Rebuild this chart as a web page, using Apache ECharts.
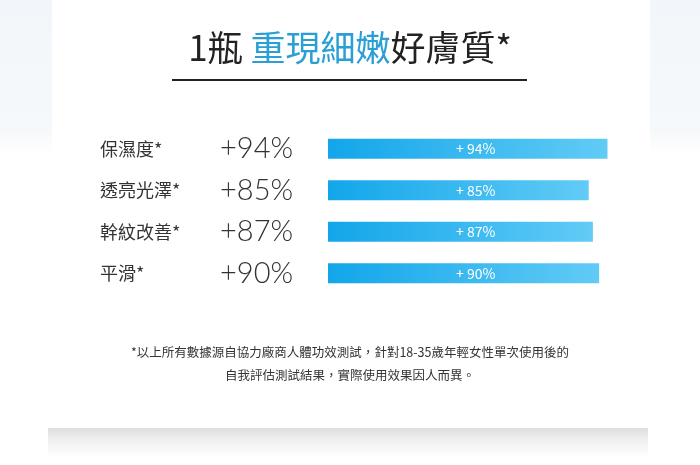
<!DOCTYPE html>
<html><head><meta charset="utf-8">
<script src="https://cdn.jsdelivr.net/npm/echarts@6/dist/echarts.min.js"></script>
<style>html,body{margin:0;padding:0;background:#fff}#c{width:700px;height:465px}</style>
</head><body><div id="c"></div>
<script>
const categories = ['保濕度*', '透亮光澤*', '幹紋改善*', '平滑*'];
const values = [94, 85, 87, 90];
const barLabels = ['+ 94%', '+ 85%', '+ 87%', '+ 90%'];
const bigLabels = ['+94%', '+85%', '+87%', '+90%'];
const footnote1 = '*以上所有數據源自協力廠商人體功效測試，針對18-35歲年輕女性單次使用後的';
const footnote2 = '自我評估測試結果，實際使用效果因人而異。';
const axisMin = -40, axisMax = 100;

const chart = echarts.init(document.getElementById('c'), null, {renderer: 'canvas'});
const font = '"Noto Sans CJK TC","Noto Sans",sans-serif';
const sideFill = () => new echarts.graphic.LinearGradient(0,0,0,1,[{offset:0,color:'#f2f6fa'},{offset:0.85,color:'#f6f9fb'},{offset:1,color:'#ffffff'}]);
chart.setOption({
  backgroundColor: '#fff',
  animation: false,
  graphic: [
    {type: 'rect', left: 0, top: 0, shape: {width: 52, height: 155}, style: {fill: sideFill()}, z: -10},
    {type: 'rect', right: 0, top: 0, shape: {width: 50, height: 155}, style: {fill: sideFill()}, z: -10},
    {type: 'rect', left: 48, top: 428, shape: {width: 600, height: 30}, style: {fill: new echarts.graphic.LinearGradient(0,0,0,1,[{offset:0,color:'#dedede'},{offset:0.35,color:'#eeeeee'},{offset:1,color:'#ffffff'}])}, z: -10},
    {type: 'text', left: 'center', top: 30, style: {
      text: '{k|1瓶 }{b|重現細嫩}{k|好膚質*}',
      rich: {
        k: {fontSize: 35, fill: '#222', fontFamily: font},
        b: {fontSize: 35, fill: '#2a9fd6', fontFamily: font}
      }
    }},
    {type: 'line', shape: {x1: 172, y1: 80, x2: 527, y2: 80}, style: {stroke: '#222', lineWidth: 2}},
    {type: 'text', left: 'center', top: 346, style: {text: footnote1, fontSize: 12.5, fill: '#333', fontFamily: font}},
    {type: 'text', left: 'center', top: 369, style: {text: footnote2, fontSize: 12.5, fill: '#333', fontFamily: font}}
  ],
  grid: {left: 328, top: 128, width: 292, height: 166, containLabel: false},
  xAxis: {type: 'value', min: axisMin, max: axisMax, show: false},
  yAxis: {
    type: 'category', data: categories, inverse: true,
    axisLine: {show: false}, axisTick: {show: false}, splitLine: {show: false},
    axisLabel: {
      margin: 228, align: 'left',
      formatter: function (v, i) { return '{a|' + v + '}{p|' + bigLabels[i] + '}'; },
      rich: {
        a: {fontSize: 18, color: '#333', width: 120, fontFamily: font},
        p: {fontSize: 29, color: '#333', fontWeight: 300, fontFamily: 'Lato, "Open Sans", sans-serif'}
      }
    }
  },
  series: [{
    type: 'custom',
    data: values.map((v, i) => [v, i]),
    encode: {x: 0, y: 1},
    renderItem: function (params, api) {
      const idx = api.value(1);
      const end = api.coord([api.value(0), idx]);
      const start = api.coord([axisMin, idx]);
      const h = 20;
      return {
        type: 'group',
        children: [{
          type: 'rect',
          shape: {x: start[0], y: end[1] - h / 2, width: end[0] - start[0], height: h},
          style: {fill: new echarts.graphic.LinearGradient(0,0,1,0,[{offset:0,color:'#12a6ea'},{offset:1,color:'#62cbf6'}])}
        }, {
          type: 'text',
          x: start[0] + 128, y: end[1],
          style: {text: barLabels[params.dataIndex], fill: '#fff', fontSize: 14, fontFamily: font, verticalAlign: 'middle', align: 'left'}
        }]
      };
    }
  }]
});
</script></body></html>
